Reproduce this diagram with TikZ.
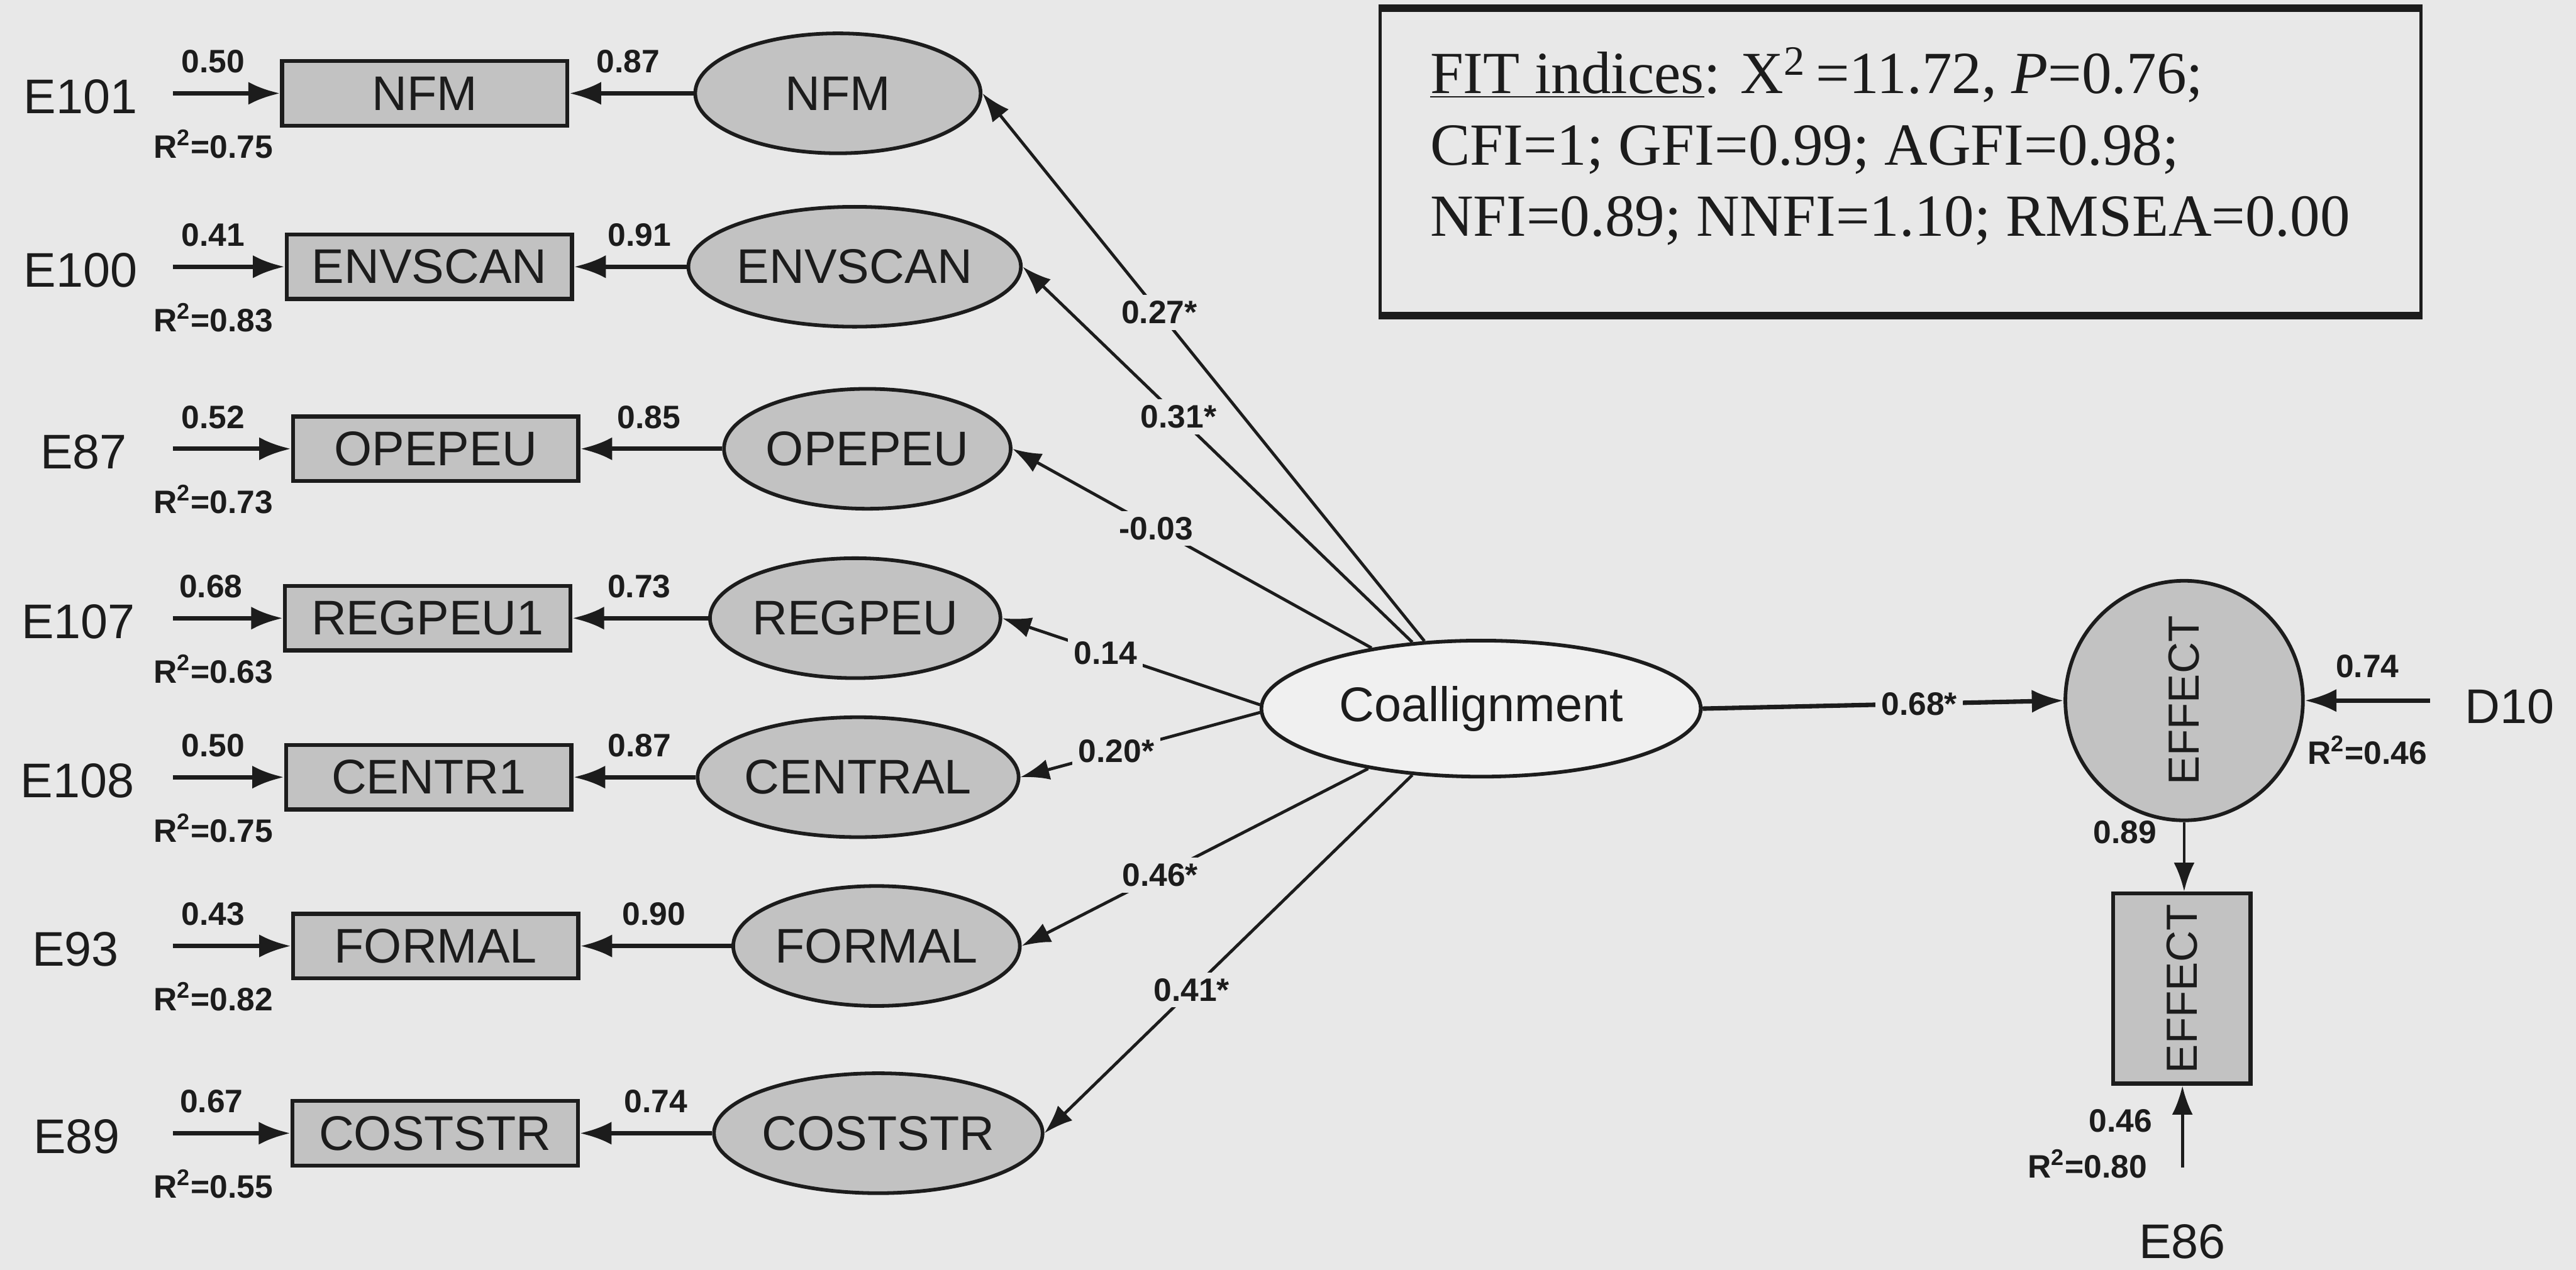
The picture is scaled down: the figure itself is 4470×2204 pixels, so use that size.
\documentclass[tikz,border=0pt]{standalone}
\usepackage{fontspec}
\setmainfont{Liberation Serif}
\newfontfamily\arialfont{Liberation Sans}
\usepackage{graphicx}
\usetikzlibrary{shapes.geometric,arrows.meta}
\definecolor{paper}{HTML}{E8E8E8}
\definecolor{shade}{HTML}{C2C2C2}
\definecolor{ink}{HTML}{1C1C1C}
\begin{document}
\begin{tikzpicture}[x=0.01cm,y=-0.01cm,
  every node/.style={font=\arialfont, text=ink},
  big/.style={font=\arialfont\fontsize{24}{28}\selectfont},
  small/.style={font=\arialfont\bfseries\fontsize{16}{19}\selectfont},
  obs/.style={big, rectangle, draw=ink, line width=2pt, fill=shade,
    minimum width=4.95cm, minimum height=1.12cm, inner sep=0pt},
  latent/.style={big, ellipse, draw=ink, line width=1.8pt, fill=shade,
    minimum width=4.95cm, minimum height=2.08cm, inner sep=0pt},
  heavy arrow/.style={draw=ink, line width=2.2pt, -{Latex[length=0.55cm,width=0.4cm]}},
  path arrow/.style={draw=ink, line width=1.5pt, -{Latex[length=0.5cm,width=0.36cm]}},
  coef/.style={small, fill=paper, inner sep=3pt},
  fit text/.style={font=\rmfamily\fontsize{29.5}{34}\selectfont, anchor=base west, inner sep=0pt},
]
% page
\fill[paper] (0,0) rectangle (4470,2204);
\useasboundingbox (0,0) rectangle (4470,2204);

% ---------- measurement rows ----------
% NFM
\node[big] (e101) at (140,168) {E101};
\coordinate (e101s) at (300,162);
\node[obs] (nfmobs) at (737,162) {NFM};
\node[latent] (nfm) at (1454,162) {NFM};
\draw[heavy arrow] (e101s) -- (nfmobs);
\draw[heavy arrow] (nfm) -- (nfmobs);
\node[small] (err101) at (370,107) {0.50};
\node[small] (rsq101) at (370,250) {R\textsuperscript{2}=0.75};
\node[small] (ld101) at (1090,107) {0.87};

% ENVSCAN
\node[big] (e100) at (140,469) {E100};
\coordinate (e100s) at (300,463);
\node[obs] (envobs) at (745,463) {ENVSCAN};
\node[latent] (env) at (1483,463) {ENVSCAN};
\draw[heavy arrow] (e100s) -- (envobs);
\draw[heavy arrow] (env) -- (envobs);
\node[small] (err100) at (370,408) {0.41};
\node[small] (rsq100) at (370,551) {R\textsuperscript{2}=0.83};
\node[small] (ld100) at (1110,408) {0.91};

% OPEPEU
\node[big] (e87) at (145,785) {E87};
\coordinate (e87s) at (300,779);
\node[obs] (opeobs) at (756,779) {OPEPEU};
\node[latent] (ope) at (1505,779) {OPEPEU};
\draw[heavy arrow] (e87s) -- (opeobs);
\draw[heavy arrow] (ope) -- (opeobs);
\node[small] (err87) at (370,724) {0.52};
\node[small] (rsq87) at (370,867) {R\textsuperscript{2}=0.73};
\node[small] (ld87) at (1126,724) {0.85};

% REGPEU
\node[big] (e107) at (136,1079) {E107};
\coordinate (e107s) at (300,1073);
\node[obs] (regobs) at (742,1073) {REGPEU1};
\node[latent] (reg) at (1484,1073) {REGPEU};
\draw[heavy arrow] (e107s) -- (regobs);
\draw[heavy arrow] (reg) -- (regobs);
\node[small] (err107) at (366,1018) {0.68};
\node[small] (rsq107) at (370,1161) {R\textsuperscript{2}=0.63};
\node[small] (ld107) at (1109,1018) {0.73};

% CENTRAL
\node[big] (e108) at (134,1355) {E108};
\coordinate (e108s) at (300,1349);
\node[obs] (cenobs) at (744,1349) {CENTR1};
\node[latent] (cen) at (1489,1349) {CENTRAL};
\draw[heavy arrow] (e108s) -- (cenobs);
\draw[heavy arrow] (cen) -- (cenobs);
\node[small] (err108) at (370,1294) {0.50};
\node[small] (rsq108) at (370,1437) {R\textsuperscript{2}=0.75};
\node[small] (ld108) at (1110,1294) {0.87};

% FORMAL
\node[big] (e93) at (131,1648) {E93};
\coordinate (e93s) at (300,1642);
\node[obs] (forobs) at (756,1642) {FORMAL};
\node[latent] (for) at (1521,1642) {FORMAL};
\draw[heavy arrow] (e93s) -- (forobs);
\draw[heavy arrow] (for) -- (forobs);
\node[small] (err93) at (370,1587) {0.43};
\node[small] (rsq93) at (370,1730) {R\textsuperscript{2}=0.82};
\node[small] (ld93) at (1135,1587) {0.90};

% COSTSTR
\node[big] (e89) at (133,1973) {E89};
\coordinate (e89s) at (300,1967);
\node[obs] (cosobs) at (755,1967) {COSTSTR};
\node[latent] (cos) at (1524,1967) {COSTSTR};
\draw[heavy arrow] (e89s) -- (cosobs);
\draw[heavy arrow] (cos) -- (cosobs);
\node[small] (err89) at (367,1912) {0.67};
\node[small] (rsq89) at (370,2055) {R\textsuperscript{2}=0.55};
\node[small] (ld89) at (1138,1912) {0.74};

% ---------- coalignment factor ----------
\node[big, ellipse, draw=ink, line width=1.8pt, fill=white!35!paper,
  minimum width=7.62cm, minimum height=2.36cm, inner sep=0pt] (coal) at (2570,1230) {Coallignment};

\draw[path arrow] (coal.130) -- node[coef,pos=0.6] {0.27*} (nfm.east);
\draw[path arrow] (coal.136) -- node[coef,pos=0.6] {0.31*} (env.east);
\draw[path arrow] (coal.151) -- node[coef,pos=0.6] {-0.03} (ope.east);
\draw[path arrow] (coal.179) -- node[coef,pos=0.6] {0.14} (reg.east);
\draw[path arrow] (coal.181) -- node[coef,pos=0.6] {0.20*} (cen.east);
\draw[path arrow] (coal.208) -- node[coef,pos=0.6] {0.46*} (for.east);
\draw[path arrow] (coal.224) -- node[coef,pos=0.6] {0.41*} (cos.east);

% ---------- outcome ----------
\node[latent, minimum width=4.12cm, minimum height=3.34cm] (eff) at (3790,1216)
  {\fontsize{21.5}{24}\selectfont\rotatebox{90}{EFFECT}};
\draw[heavy arrow] (coal.east) -- node[coef,pos=0.6] {0.68*} (eff.west);

\node[big] (d10) at (4355,1226) {D10};
\coordinate (d10s) at (4217,1216);
\draw[heavy arrow] (d10s) -- (eff.east);
\node[small] (err10) at (4108,1156) {0.74};
\node[small] (rsq10) at (4108,1302) {R\textsuperscript{2}=0.46};

\node[obs, minimum width=2.38cm, minimum height=3.3cm] (effobs) at (3786,1716)
  {\fontsize{21.5}{24}\selectfont\rotatebox{90}{EFFECT}};
\draw[path arrow] (eff.south) -- (eff.south |- effobs.north);
\node[small] (ld86) at (3687,1445) {0.89};

\node[big] (e86) at (3787,2155) {E86};
\coordinate (e86s) at (3787,2027);
\draw[path arrow] (e86s) -- (e86s |- effobs.south);
\node[small] (err86) at (3680,1946) {0.46};
\node[small] (rsq86) at (3622,2020) {R\textsuperscript{2}=0.80};

% ---------- fit indices ----------
\node[draw=ink, line width=1.5pt, minimum width=18.05cm, minimum height=5.28cm,
  inner sep=0pt] (fitbox) at (3298,281) {};
\draw[ink, line width=3.5pt] (fitbox.north west) -- (fitbox.north east);
\draw[ink, line width=3.5pt] (fitbox.south west) -- (fitbox.south east);
\node[fit text] (fitA) at (2481,162)
  {\underline{FIT indices}: X\textsuperscript{2}\,=11.72, \textit{P}=0.76;};
\node[fit text] (fitB) at (2481,286) {CFI=1; GFI=0.99; AGFI=0.98;};
\node[fit text] (fitC) at (2481,410) {NFI=0.89; NNFI=1.10; RMSEA=0.00};
\end{tikzpicture}
\end{document}
